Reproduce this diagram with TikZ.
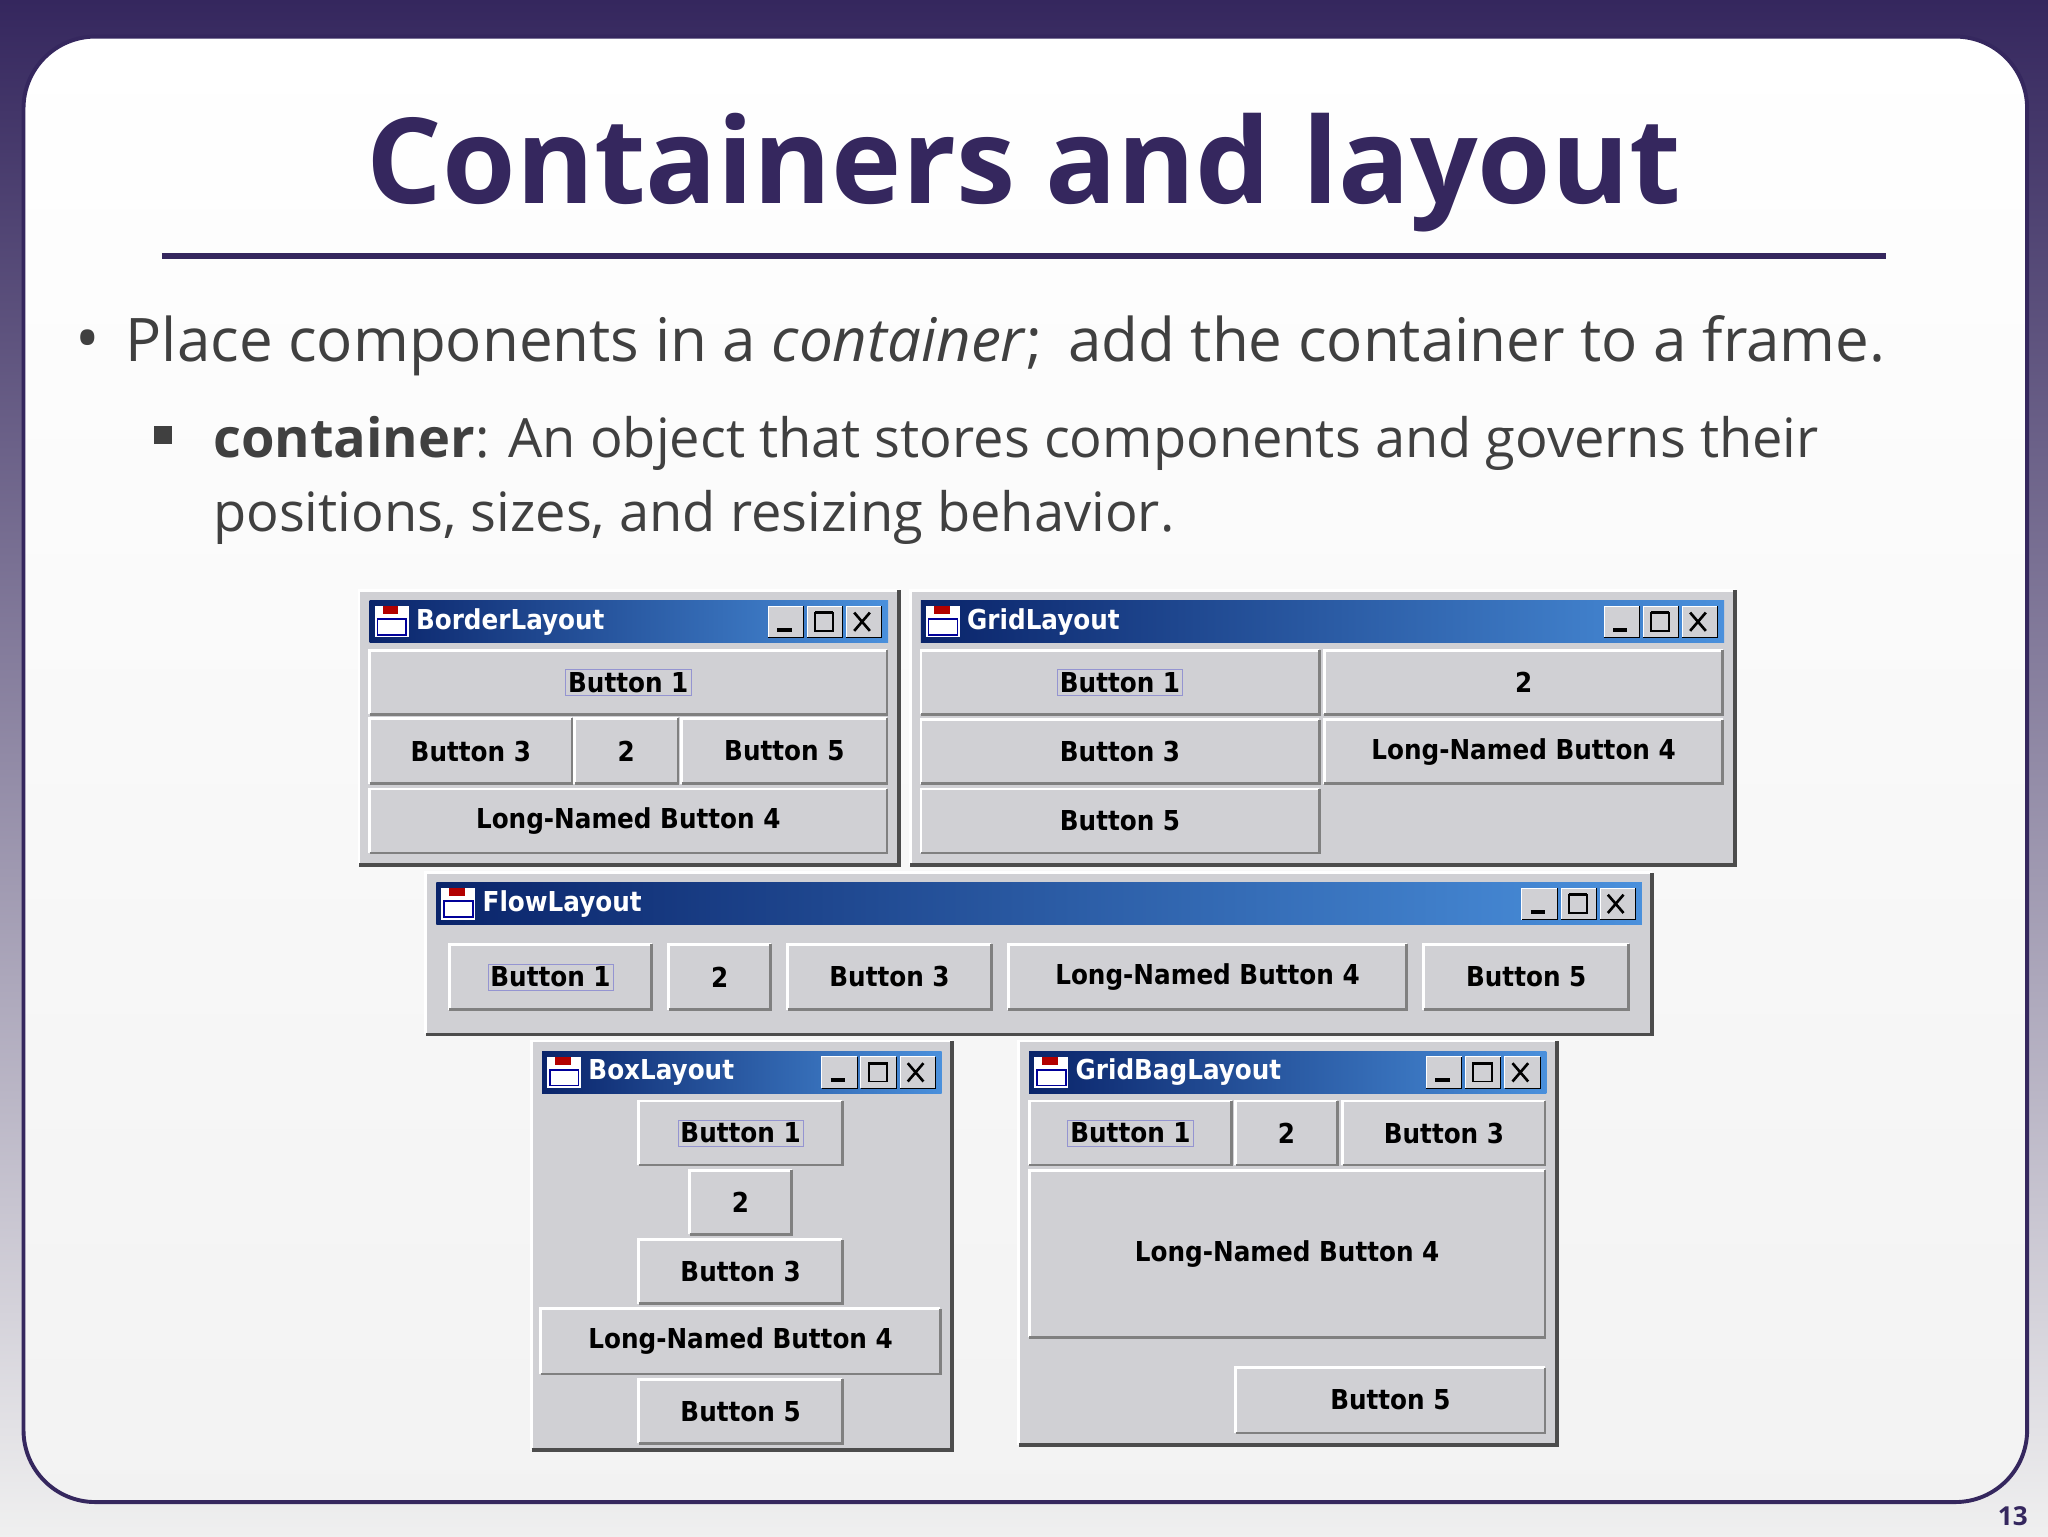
\documentclass[tikz,border=0pt]{standalone}
\usepackage{fontspec}
\setmainfont{Carlito}
\newfontfamily\winfont{DejaVu Sans Condensed}
\usetikzlibrary{calc}
\definecolor{slidepurple}{HTML}{35275E}
\definecolor{wgray}{HTML}{D0D0D4}
\definecolor{wdark}{HTML}{808080}
\definecolor{tbdark}{HTML}{0A246A}
\definecolor{tblight}{HTML}{4A90DC}
\definecolor{txtgray}{HTML}{404040}
\tikzset{
  btntext/.style={font=\winfont\bfseries\fontsize{21}{21}\selectfont, text=black},
  focus/.style={draw=blue!40!gray!60, inner sep=2pt},
}
\newcommand\wbtn[6]{%
  \fill[wgray] (#2,#3) rectangle (#4,#5);
  \draw[white,line width=2] (#2,#5) -- (#2,#3) -- (#4,#3);
  \draw[wdark,line width=2] (#2,#5) -- (#4,#5) -- (#4,#3);
  \node[btntext] (#1) at ($(#2,#3)!0.5!(#4,#5)$) {#6};
}
\newcommand\wfocusbtn[6]{%
  \fill[wgray] (#2,#3) rectangle (#4,#5);
  \draw[white,line width=2] (#2,#5) -- (#2,#3) -- (#4,#3);
  \draw[wdark,line width=2] (#2,#5) -- (#4,#5) -- (#4,#3);
  \node[btntext,focus] (#1) at ($(#2,#3)!0.5!(#4,#5)$) {#6};
}
\newcommand\wwin[6]{%
  \fill[wgray] (#2,#3) rectangle (#4,#5);
  \draw[white,line width=2] (#2,#5) -- (#2,#3) -- (#4,#3);
  \draw[black!70,line width=3] (#2,#5) -- (#4,#5) -- (#4,#3);
  \shade[left color=tbdark,right color=tblight] ($(#2,#3)+(8,8)$) rectangle ($(#4,#3)+(-8,40)$);
  \fill[white] ($(#2,#3)+(12,12)$) rectangle ($(#2,#3)+(38,36)$);
  \fill[red!70!black] ($(#2,#3)+(18,12)$) rectangle ($(#2,#3)+(30,18)$);
  \draw[blue!60!black,line width=1.2] ($(#2,#3)+(14,22)$) rectangle ($(#2,#3)+(36,34)$);
  \node[anchor=west,text=white,font=\winfont\bfseries\fontsize{21}{21}\selectfont] (#1) at ($(#2,#3)+(40,24)$) {#6};
  \foreach \k in {0,1,2}{
    \coordinate (tb) at ($(#4,#3)+(-100+\k*30,12)$);
    \fill[wgray] (tb) rectangle ($(tb)+(27,24)$);
    \draw[white] ($(tb)+(0,24)$) -- (tb) -- ($(tb)+(27,0)$);
    \draw[black] ($(tb)+(0,24)$) -- ($(tb)+(27,24)$) -- ($(tb)+(27,0)$);
  }
  \draw[black,line width=3] ($(#4,#3)+(-93,30)$) -- ($(#4,#3)+(-82,30)$);
  \draw[black,line width=1.5] ($(#4,#3)+(-64,17)$) rectangle ($(#4,#3)+(-50,31)$);
  \draw[black,line width=2.5] ($(#4,#3)+(-64,17)$) -- ($(#4,#3)+(-50,17)$);
  \draw[black,line width=2] ($(#4,#3)+(-34,17)$) -- ($(#4,#3)+(-22,31)$) ($(#4,#3)+(-34,31)$) -- ($(#4,#3)+(-22,17)$);
}
\begin{document}
\begin{tikzpicture}[x=1pt,y=-1pt]
\useasboundingbox (0,0) rectangle (1568,1176);
\shade[top color=slidepurple,bottom color=black!6] (0,0) rectangle (1568,1176);
\shade[top color=white,bottom color=black!5,draw=slidepurple,line width=3,rounded corners=55] (18,28) rectangle (1552,1150);
\node[text=slidepurple,font=\fontspec{Open Sans}\bfseries\fontsize{91}{91}\selectfont] (title) at (784,132) {Containers and layout};
\draw[slidepurple,line width=4] (124,196) -- (1444,196);
\node[text=txtgray,font=\fontspec{Open Sans}\fontsize{50}{50}\selectfont] (b1) at (67,265) {•};
\node[anchor=west,text=txtgray,font=\fontspec{Open Sans}\fontsize{46}{46}\selectfont,inner sep=0] (t1) at (96,265) {Place components in a \textit{container};\, add the container to a frame.};
\fill[txtgray] (118,326) rectangle (132,340) coordinate (sq);
\node[anchor=north west,text=txtgray,font=\fontspec{Open Sans}\fontsize{41.5}{57}\selectfont,inner sep=0] (t2) at (163,310) {\begin{tabular}{@{}l@{}}\textbf{container}: An object that stores components and governs their\\positions, sizes, and resizing behavior.\end{tabular}};
% BorderLayout
\wwin{bw}{275}{452}{688}{662}{BorderLayout}
\wfocusbtn{b11}{283}{498}{679}{547}{Button 1}
\wbtn{b13}{283}{550}{438}{600}{Button 3}
\wbtn{b12}{440}{550}{519}{600}{2}
\wbtn{b15}{522}{550}{679}{600}{Button 5}
\wbtn{b14}{283}{604}{679}{653}{Long-Named Button 4}
% GridLayout
\wwin{gw}{697}{452}{1328}{662}{GridLayout}
\wfocusbtn{g1}{705}{498}{1010}{547}{Button 1}
\wbtn{g2}{1014}{498}{1319}{547}{2}
\wbtn{g3}{705}{551}{1010}{600}{Button 3}
\wbtn{g4}{1014}{551}{1319}{600}{Long-Named Button 4}
\wbtn{g5}{705}{604}{1010}{653}{Button 5}
% FlowLayout
\wwin{fw}{326}{668}{1265}{792}{FlowLayout}
\wfocusbtn{f1}{344}{723}{499}{773}{Button 1}
\wbtn{f2}{512}{723}{590}{773}{2}
\wbtn{f3}{603}{723}{759}{773}{Button 3}
\wbtn{f4}{772}{723}{1077}{773}{Long-Named Button 4}
\wbtn{f5}{1090}{723}{1247}{773}{Button 5}
% BoxLayout
\wwin{xw}{407}{797}{729}{1110}{BoxLayout}
\wfocusbtn{x1}{489}{843}{645}{892}{Button 1}
\wbtn{x2}{528}{896}{606}{945}{2}
\wbtn{x3}{489}{949}{645}{998}{Button 3}
\wbtn{x4}{414}{1002}{720}{1052}{Long-Named Button 4}
\wbtn{x5}{489}{1056}{645}{1105}{Button 5}
% GridBagLayout
\wwin{yw}{780}{797}{1192}{1106}{GridBagLayout}
\wfocusbtn{y1}{788}{843}{943}{892}{Button 1}
\wbtn{y2}{946}{843}{1024}{892}{2}
\wbtn{y3}{1028}{843}{1183}{892}{Button 3}
\wbtn{y4}{788}{896}{1183}{1024}{Long-Named Button 4}
\wbtn{y5}{946}{1047}{1183}{1097}{Button 5}
\node[text=slidepurple,font=\fontspec{Open Sans}\bfseries\fontsize{20}{20}\selectfont] (pg) at (1541,1161) {13};
\end{tikzpicture}
\end{document}
